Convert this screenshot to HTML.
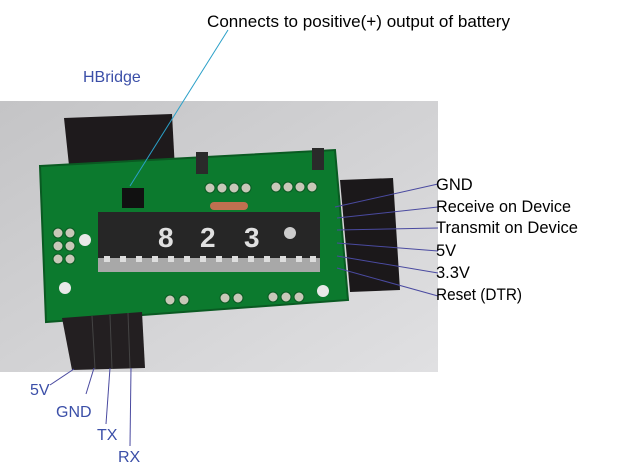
<!DOCTYPE html>
<html><head><style>
body{margin:0;width:620px;height:474px;background:#fff;overflow:hidden;font-family:"Liberation Sans",sans-serif}
svg{position:absolute;left:0;top:0}
</style></head><body>
<svg width="620" height="474" viewBox="0 0 620 474">
<defs><linearGradient id="bg" x1="0" y1="0" x2="1" y2="1"><stop offset="0" stop-color="#c4c4c6"/><stop offset="1" stop-color="#e0e0e2"/></linearGradient></defs>
<rect x="0" y="101" width="438" height="271" fill="url(#bg)"/>
<polygon points="64,118 172,114 175,170 70,175" fill="#1e1a1c"/>
<polygon points="40,166 335,150 348,300 46,322" fill="#0c7a2e"/>
<polygon points="40,166 335,150 348,300 46,322" fill="none" stroke="#0a5a22" stroke-width="2"/>
<rect x="196" y="152" width="12" height="22" fill="#2a2a2a"/>
<rect x="312" y="148" width="12" height="22" fill="#2a2a2a"/>
<g fill="#c8c8b8" stroke="#0a5a22">
<circle cx="210" cy="188" r="5"/><circle cx="222" cy="188" r="5"/><circle cx="234" cy="188" r="5"/><circle cx="246" cy="188" r="5"/>
<circle cx="276" cy="187" r="5"/><circle cx="288" cy="187" r="5"/><circle cx="300" cy="187" r="5"/><circle cx="312" cy="187" r="5"/>
<circle cx="58" cy="233" r="5"/><circle cx="58" cy="246" r="5"/><circle cx="58" cy="259" r="5"/><circle cx="70" cy="233" r="5"/><circle cx="70" cy="246" r="5"/><circle cx="70" cy="259" r="5"/>
<circle cx="170" cy="300" r="5"/><circle cx="184" cy="300" r="5"/><circle cx="225" cy="298" r="5"/><circle cx="238" cy="298" r="5"/><circle cx="273" cy="297" r="5"/><circle cx="286" cy="297" r="5"/><circle cx="299" cy="297" r="5"/>
</g>
<g fill="#e8e8e8"><circle cx="85" cy="240" r="6"/><circle cx="65" cy="288" r="6"/><circle cx="323" cy="291" r="6"/></g>
<rect x="210" y="202" width="38" height="8" rx="4" fill="#c07050"/>
<rect x="98" y="212" width="222" height="46" fill="#262626"/>
<rect x="98" y="258" width="222" height="14" fill="#a8a8a8"/>
<g fill="#ddd">
<rect x="104" y="256" width="6" height="6"/><rect x="120" y="256" width="6" height="6"/><rect x="136" y="256" width="6" height="6"/><rect x="152" y="256" width="6" height="6"/><rect x="168" y="256" width="6" height="6"/><rect x="184" y="256" width="6" height="6"/><rect x="200" y="256" width="6" height="6"/><rect x="216" y="256" width="6" height="6"/><rect x="232" y="256" width="6" height="6"/><rect x="248" y="256" width="6" height="6"/><rect x="264" y="256" width="6" height="6"/><rect x="280" y="256" width="6" height="6"/><rect x="296" y="256" width="6" height="6"/><rect x="310" y="256" width="6" height="6"/>
</g>
<g fill="#e0e0e0" font-family="Liberation Sans" font-weight="bold" font-size="28"><text x="158" y="247">8</text><text x="200" y="247">2</text><text x="244" y="247">3</text></g>
<circle cx="290" cy="233" r="6" fill="#ccc"/>
<rect x="122" y="188" width="22" height="20" fill="#111"/>
<polygon points="340,180 393,178 400,290 350,292" fill="#1b181a"/>
<polygon points="62,318 142,312 145,368 72,370" fill="#231f21"/>
<g stroke="#444" stroke-width="1"><line x1="92" y1="316" x2="95" y2="369"/><line x1="110" y1="315" x2="112" y2="369"/><line x1="128" y1="313" x2="130" y2="368"/></g>
<g stroke="#4a4aa0" stroke-width="1" fill="none">
<line x1="335" y1="207" x2="438" y2="184"/>
<line x1="337" y1="218" x2="438" y2="207"/>
<line x1="337" y1="230" x2="438" y2="228"/>
<line x1="337" y1="243" x2="438" y2="251"/>
<line x1="337" y1="256" x2="438" y2="273"/>
<line x1="337" y1="268" x2="438" y2="296"/>
<line x1="74" y1="369" x2="50" y2="385"/>
<line x1="94" y1="368" x2="86" y2="394"/>
<line x1="110" y1="368" x2="106" y2="424"/>
<line x1="131" y1="368" x2="130" y2="446"/>
</g>
<line x1="228" y1="30" x2="130" y2="186" stroke="#2aa0c8" stroke-width="1"/>
<g font-size="16.5" fill="#000">
<text x="207" y="27" textLength="303" lengthAdjust="spacingAndGlyphs">Connects to positive(+) output of battery</text>
<text x="436" y="190">GND</text>
<text x="436" y="212" textLength="135" lengthAdjust="spacingAndGlyphs">Receive on Device</text>
<text x="436" y="233" textLength="142" lengthAdjust="spacingAndGlyphs">Transmit on Device</text>
<text x="436" y="256">5V</text>
<text x="436" y="278">3.3V</text>
<text x="436" y="300" textLength="86" lengthAdjust="spacingAndGlyphs">Reset (DTR)</text>
</g>
<g font-size="16" fill="#3b4fa8">
<text x="83" y="82">HBridge</text>
<text x="30" y="395">5V</text>
<text x="56" y="417">GND</text>
<text x="97" y="440">TX</text>
<text x="118" y="462">RX</text>
</g>
</svg>
</body></html>
